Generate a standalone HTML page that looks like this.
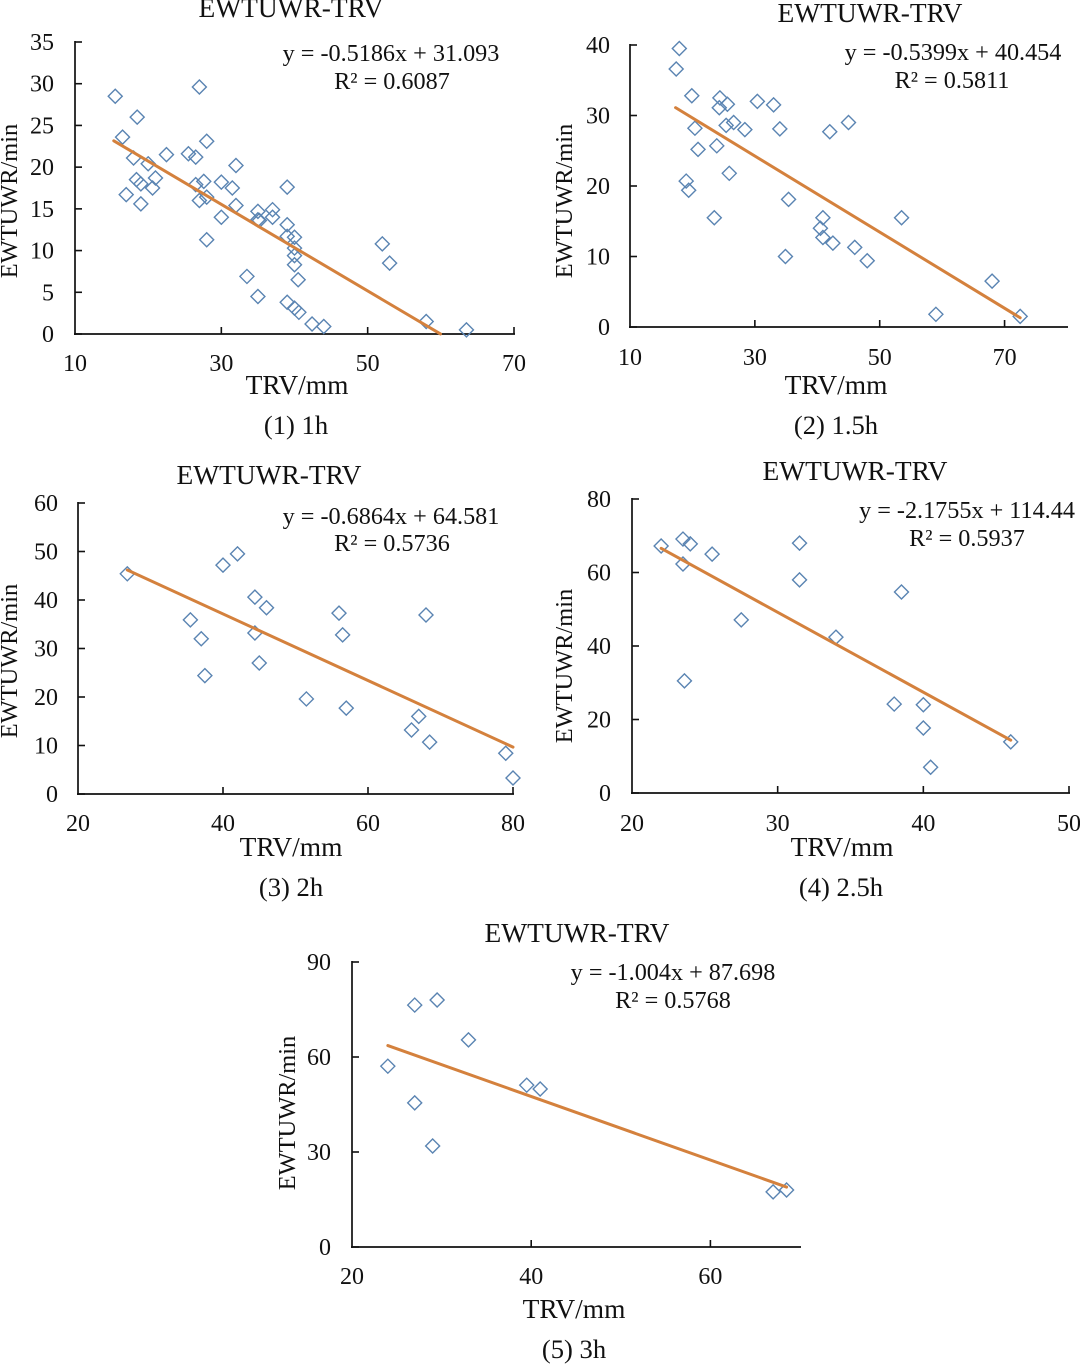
<!DOCTYPE html>
<html lang="en">
<head>
<meta charset="utf-8">
<title>EWTUWR-TRV scatter charts</title>
<style>
  html, body { margin: 0; padding: 0; background: #fff; }
  svg { display: block; }
  text { font-family: "Liberation Serif", serif; fill: #111; }
  .title, .xlabel { font-size: 27.4px; text-anchor: middle; }
  .caption { font-size: 26.6px; text-anchor: middle; }
  .ylabel { font-size: 24.4px; text-anchor: middle; }
  .eq { font-size: 24.2px; text-anchor: middle; }
  .tick { font-size: 24px; }
</style>
</head>
<body>
<svg id="figure" width="1080" height="1364" viewBox="0 0 1080 1364" xmlns="http://www.w3.org/2000/svg">
  <g id="panel-1">
    <text class="title" x="291" y="17">EWTUWR-TRV</text>
    <text class="ylabel" transform="translate(17,201) rotate(-90)">EWTUWR/min</text>
    <text class="xlabel" x="297" y="394">TRV/mm</text>
    <text class="caption" x="296" y="434">(1) 1h</text>
    <text class="eq" x="391" y="61">y = -0.5186x + 31.093</text>
    <text class="eq" x="392" y="89">R² = 0.6087</text>
  </g>
  <g id="panel-2">
    <text class="title" x="870" y="22">EWTUWR-TRV</text>
    <text class="ylabel" transform="translate(572,201) rotate(-90)">EWTUWR/min</text>
    <text class="xlabel" x="836" y="394">TRV/mm</text>
    <text class="caption" x="836" y="434">(2) 1.5h</text>
    <text class="eq" x="953" y="60">y = -0.5399x + 40.454</text>
    <text class="eq" x="952" y="88">R² = 0.5811</text>
  </g>
  <g id="panel-3">
    <text class="title" x="269" y="484">EWTUWR-TRV</text>
    <text class="ylabel" transform="translate(17,661) rotate(-90)">EWTUWR/min</text>
    <text class="xlabel" x="291" y="856">TRV/mm</text>
    <text class="caption" x="291" y="896">(3) 2h</text>
    <text class="eq" x="391" y="524">y = -0.6864x + 64.581</text>
    <text class="eq" x="392" y="551">R² = 0.5736</text>
  </g>
  <g id="panel-4">
    <text class="title" x="855" y="480">EWTUWR-TRV</text>
    <text class="ylabel" transform="translate(572,666) rotate(-90)">EWTUWR/min</text>
    <text class="xlabel" x="842" y="856">TRV/mm</text>
    <text class="caption" x="841" y="896">(4) 2.5h</text>
    <text class="eq" x="967" y="518">y = -2.1755x + 114.44</text>
    <text class="eq" x="967" y="546">R² = 0.5937</text>
  </g>
  <g id="panel-5">
    <text class="title" x="577" y="942">EWTUWR-TRV</text>
    <text class="ylabel" transform="translate(295,1113) rotate(-90)">EWTUWR/min</text>
    <text class="xlabel" x="574" y="1318">TRV/mm</text>
    <text class="caption" x="574" y="1358">(5) 3h</text>
    <text class="eq" x="673" y="980">y = -1.004x + 87.698</text>
    <text class="eq" x="673" y="1008">R² = 0.5768</text>
  </g>
</svg>
<script>
// Panel 1: 1h
const xTicks1 = [10, 30, 50, 70];
const yTicks1 = [0, 5, 10, 15, 20, 25, 30, 35];
const trv1 = [15.5,27,18.5,16.5,28,18,20,22.5,25.5,26.5,32,21,18.4,19,20.6,17,19,26.5,27.6,30,31.5,28,27,32,30,28,35,37,37,35,35.2,39,39,39,40,40,40,40,40.5,33.5,35,39,40,40.6,42.4,44,52,53,58,63.5];
const ewt1 = [28.5,29.6,26,23.6,23.1,21.1,20.4,21.5,21.6,21.2,20.2,18.7,18.5,18,17.5,16.7,15.6,17.9,18.3,18.2,17.5,16.4,16,15.4,14,11.3,14.7,14.9,14,13.7,13.6,17.6,13.1,11.7,11.6,10.3,9.4,8.3,6.5,6.9,4.5,3.8,3.1,2.6,1.2,0.9,10.8,8.5,1.5,0.5];
const trendFit1 = [-0.5186, 31.093];
const trendRange1 = [15.3, 59.95];

// Panel 2: 1.5h
const xTicks2 = [10, 30, 50, 70];
const yTicks2 = [0, 10, 20, 30, 40];
const trv2 = [17.9,17.4,19.9,24.4,25.6,24.3,30.4,33,45,26.6,25.4,28.4,34,42,20.4,20.9,23.9,25.9,19,19.4,35.4,23.5,40.9,40.5,40.9,42.5,46,48,34.9,53.5,68,59,72.5];
const ewt2 = [39.5,36.6,32.8,32.5,31.6,31.1,32,31.5,29,29,28.6,28,28.1,27.7,28.2,25.2,25.7,21.8,20.7,19.4,18.1,15.5,15.5,14,12.7,11.9,11.3,9.4,10,15.5,6.5,1.8,1.5];
const trendFit2 = [-0.5399, 40.454];
const trendRange2 = [17.3, 72.5];

// Panel 3: 2h
const xTicks3 = [20, 40, 60, 80];
const yTicks3 = [0, 10, 20, 30, 40, 50, 60];
const trv3 = [26.8,35.5,37,37.5,40,42,44.4,46,44.4,45,51.5,56,56.5,57,68,67,66,68.5,79,80];
const ewt3 = [45.4,35.9,32,24.4,47.2,49.5,40.6,38.4,33.2,27,19.6,37.3,32.8,17.7,36.9,16,13.2,10.7,8.4,3.3];
const trendFit3 = [-0.6864, 64.581];
const trendRange3 = [26.8, 80];

// Panel 4: 2.5h
const xTicks4 = [20, 30, 40, 50];
const yTicks4 = [0, 20, 40, 60, 80];
const trv4 = [22,23.5,24,23.5,25.5,31.5,31.5,27.5,23.6,34,38.5,38,40,40,40.5,46];
const ewt4 = [67.2,69.1,67.8,62.3,65,68,58,47.1,30.5,42.4,54.7,24.2,24,17.7,7,13.9];
const trendFit4 = [-2.1755, 114.44];
const trendRange4 = [22, 46];

// Panel 5: 3h
const xTicks5 = [20, 40, 60];
const yTicks5 = [0, 30, 60, 90];
const trv5 = [24,27,29.5,33,27,29,39.5,41,67,68.5];
const ewt5 = [57.1,76.4,78,65.4,45.5,31.9,51.1,49.9,17.4,18];
const trendFit5 = [-1.004, 87.698];
const trendRange5 = [24, 68.5];

const SVG_NS = 'http://www.w3.org/2000/svg';

function svgEl(tag, parent) {
  const el = document.createElementNS(SVG_NS, tag);
  parent.appendChild(el);
  return el;
}

function drawPanel(panelId, frame, domain, xTicks, yTicks, xs, ys, fit, range) {
  const g = document.getElementById(panelId);
  const sx = v => frame.left + (v - domain.xMin) / (domain.xMax - domain.xMin) * (frame.right - frame.left);
  const sy = v => frame.bottom - (v - domain.yMin) / (domain.yMax - domain.yMin) * (frame.bottom - frame.top);

  const yAxis = svgEl('line', g);
  
  
  yAxis.setAttribute('x1', frame.left);
  yAxis.setAttribute('x2', frame.left);
  yAxis.setAttribute('y1', frame.top - 1);
  yAxis.setAttribute('y2', frame.bottom + 1);
  yAxis.setAttribute('stroke', '#111');
  yAxis.setAttribute('stroke-width', '1.7');

  const xAxis = svgEl('line', g);
  
  
  xAxis.setAttribute('x1', frame.left - 1);
  xAxis.setAttribute('x2', frame.right + 1);
  xAxis.setAttribute('y1', frame.bottom);
  xAxis.setAttribute('y2', frame.bottom);
  xAxis.setAttribute('stroke', '#111');
  xAxis.setAttribute('stroke-width', '1.7');

  yTicks.forEach(v => {
    const t = svgEl('line', g);
    
    
    t.setAttribute('x1', frame.left);
    t.setAttribute('x2', frame.left + 7);
    t.setAttribute('y1', sy(v));
    t.setAttribute('y2', sy(v));
    t.setAttribute('stroke', '#111');
    t.setAttribute('stroke-width', '1.6');
    const label = svgEl('text', g);
    
    
    label.setAttribute('class', 'tick');
    label.setAttribute('x', frame.yLabelRight);
    label.setAttribute('y', sy(v) + 8);
    label.setAttribute('text-anchor', 'end');
    label.textContent = v;
  });

  xTicks.forEach(v => {
    if (v !== domain.xMin) {
      const t = svgEl('line', g);
      
      
      t.setAttribute('x1', sx(v));
      t.setAttribute('x2', sx(v));
      t.setAttribute('y1', frame.bottom);
      t.setAttribute('y2', frame.bottom - 7);
      t.setAttribute('stroke', '#111');
      t.setAttribute('stroke-width', '1.6');
    }
    const label = svgEl('text', g);
    
    
    label.setAttribute('class', 'tick');
    label.setAttribute('x', sx(v));
    label.setAttribute('y', frame.xLabelBaseline);
    label.setAttribute('text-anchor', 'middle');
    label.textContent = v;
  });

  xs.forEach((x, i) => {
    const cx = sx(x);
    const cy = sy(ys[i]);
    const r = 7;
    const p = svgEl('polygon', g);
    
    
    p.setAttribute('points', [cx, cy - r, cx + r, cy, cx, cy + r, cx - r, cy].join(' '));
    p.setAttribute('fill', 'none');
    p.setAttribute('stroke', '#5a84b2');
    p.setAttribute('stroke-width', '1.4');
  });

  const trend = svgEl('line', g);
  
  
  trend.setAttribute('x1', sx(range[0]));
  trend.setAttribute('y1', sy(fit[0] * range[0] + fit[1]));
  trend.setAttribute('x2', sx(range[1]));
  trend.setAttribute('y2', sy(fit[0] * range[1] + fit[1]));
  trend.setAttribute('stroke', '#d4813d');
  trend.setAttribute('stroke-width', '3');
  trend.setAttribute('stroke-linecap', 'round');
}

drawPanel('panel-1',
  { left: 75, right: 514, top: 42, bottom: 334, yLabelRight: 54, xLabelBaseline: 371 },
  { xMin: 10, xMax: 70, yMin: 0, yMax: 35 },
  xTicks1, yTicks1, trv1, ewt1, trendFit1, trendRange1);

drawPanel('panel-2',
  { left: 630, right: 1067, top: 45, bottom: 327, yLabelRight: 610, xLabelBaseline: 365 },
  { xMin: 10, xMax: 80, yMin: 0, yMax: 40 },
  xTicks2, yTicks2, trv2, ewt2, trendFit2, trendRange2);

drawPanel('panel-3',
  { left: 78, right: 513, top: 503, bottom: 794, yLabelRight: 58, xLabelBaseline: 831 },
  { xMin: 20, xMax: 80, yMin: 0, yMax: 60 },
  xTicks3, yTicks3, trv3, ewt3, trendFit3, trendRange3);

drawPanel('panel-4',
  { left: 632, right: 1069, top: 499, bottom: 793, yLabelRight: 611, xLabelBaseline: 831 },
  { xMin: 20, xMax: 50, yMin: 0, yMax: 80 },
  xTicks4, yTicks4, trv4, ewt4, trendFit4, trendRange4);

drawPanel('panel-5',
  { left: 352, right: 800, top: 962, bottom: 1247, yLabelRight: 331, xLabelBaseline: 1284 },
  { xMin: 20, xMax: 70, yMin: 0, yMax: 90 },
  xTicks5, yTicks5, trv5, ewt5, trendFit5, trendRange5);
</script>
</body>
</html>
